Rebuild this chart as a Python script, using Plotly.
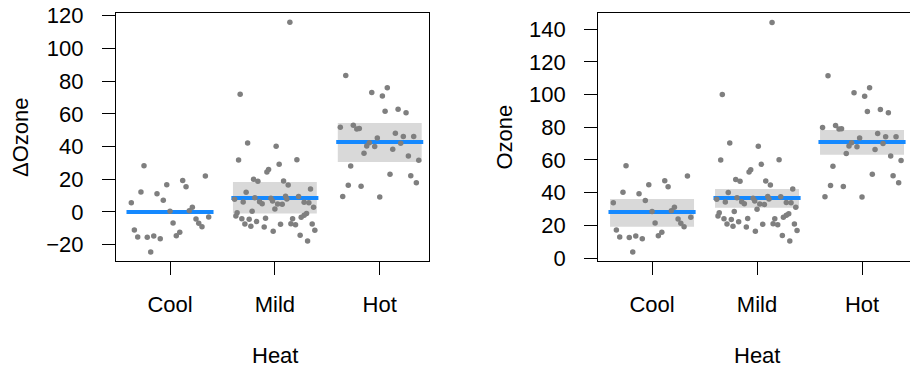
import plotly.graph_objects as go

# ---------------- data ----------------
categories = ["Cool", "Mild", "Hot"]

cool_ozone = [56.4, 50.1, 47.3, 44.8, 43.6, 40.3, 39.3, 35.2, 33.8, 28.5, 31.0, 28.9, 25.0,
              23.8, 21.2, 19.1, 21.4, 15.7, 13.6, 17.1, 12.8, 12.6, 13.4, 11.8, 3.6]
cool_jitter = [-0.248, 0.337, 0.121, -0.031, 0.153, -0.277, -0.124, -0.064, -0.369, 0.000,
               0.213, 0.184, 0.369, 0.248, 0.274, 0.305, 0.029, 0.093, 0.060, -0.340,
               -0.308, -0.217, -0.155, -0.093, -0.184]

mild_ozone = [70.3, 68.3, 59.9, 60.1, 57.3, 54.0, 52.6, 48.1, 46.9, 47.1, 44.6, 42.2, 40.1,
              37.5, 37.7, 35.9, 36.8, 36.5, 36.1, 34.2, 34.4, 33.2, 34.8, 33.0, 32.8, 34.0,
              33.8, 31.0, 29.9, 28.5, 27.7, 25.7, 27.1, 26.1, 24.9, 24.0, 23.6, 24.2, 24.0,
              22.2, 20.8, 19.4, 20.6, 20.9, 20.3, 18.9, 20.8, 16.3, 16.9, 13.8, 10.4,
              144.1, 100.1]
mild_jitter = [-0.260, 0.012, -0.346, 0.210, 0.041, -0.060, -0.076, -0.203, -0.162, 0.083,
               0.127, 0.340, -0.274, 0.226, 0.102, -0.384, -0.191, -0.038, 0.114, -0.302,
               -0.146, -0.121, -0.022, 0.026, 0.070, 0.279, 0.324, 0.369, 0.000, -0.217,
               -0.360, -0.372, 0.302, 0.279, 0.251, -0.315, -0.245, -0.089, 0.169, -0.175,
               -0.286, -0.229, 0.054, 0.153, 0.197, -0.102, 0.356, -0.016, 0.381, 0.241,
               0.312, 0.143, -0.331]

hot_ozone = [111.5, 104.1, 101.1, 99.0, 89.7, 90.9, 88.8, 79.9, 81.1, 78.9, 79.1, 76.2, 74.2,
             74.2, 73.4, 70.5, 70.1, 68.5, 68.1, 66.4, 64.0, 62.4, 59.7, 56.2, 51.2, 50.3,
             46.0, 44.4, 43.8, 37.5, 37.3]
hot_jitter = [-0.324, 0.072, -0.076, 0.025, 0.051, 0.175, 0.251, -0.376, -0.252, -0.219,
              -0.195, 0.149, 0.225, 0.324, -0.023, -0.099, 0.200, -0.124, -0.048, 0.124,
              -0.150, 0.273, 0.372, -0.277, 0.098, 0.296, 0.349, -0.300, -0.178, -0.353,
              0.000]

# group estimates (Ozone scale) and confidence bands
ozone_mean = [28.1, 36.7, 70.9]
ozone_lo = [19.1, 30.8, 63.2]
ozone_hi = [36.1, 42.2, 78.3]

# differences from Cool (ΔOzone scale)
delta_mean = [0.0, 8.6, 42.8]
delta_lo = [0.0, -1.0, 30.6]
delta_hi = [0.0, 18.3, 54.4]

yticks_left = [-20, 0, 20, 40, 60, 80, 100, 120]
yticks_right = [0, 20, 40, 60, 80, 100, 120, 140]

# ---------------- styling ----------------
W, H = 910, 369
FONT = "Liberation Sans, Arial, Helvetica, sans-serif"
PT_COL = "#7f7f7f"
LINE_COL = "#1589ff"
BAND_COL = "#d9d9d9"
BAND_HW = 0.40
LINE_HW = 0.415

groups_y = [cool_ozone, mild_ozone, hot_ozone]
groups_j = [cool_jitter, mild_jitter, hot_jitter]

fig = go.Figure()


def add_panel(xa, ya, means, lo, hi, shift):
    # bands
    for i in range(3):
        if hi[i] == lo[i]:
            continue
        c = i + 1
        fig.add_trace(go.Scatter(
            x=[c - BAND_HW, c + BAND_HW, c + BAND_HW, c - BAND_HW, c - BAND_HW],
            y=[lo[i], lo[i], hi[i], hi[i], lo[i]],
            mode="lines", fill="toself", fillcolor=BAND_COL,
            line=dict(width=0, color=BAND_COL), hoverinfo="skip",
            xaxis=xa, yaxis=ya, showlegend=False))
    # mean lines
    lx, ly = [], []
    for i in range(3):
        c = i + 1
        lx += [c - LINE_HW, c + LINE_HW, None]
        ly += [means[i], means[i], None]
    fig.add_trace(go.Scatter(x=lx, y=ly, mode="lines",
                             line=dict(color=LINE_COL, width=4),
                             xaxis=xa, yaxis=ya, showlegend=False, hoverinfo="skip"))
    # points
    px, py = [], []
    for i in range(3):
        for v, j in zip(groups_y[i], groups_j[i]):
            px.append(i + 1 + j)
            py.append(v - shift)
    fig.add_trace(go.Scatter(x=px, y=py, mode="markers",
                             marker=dict(color=PT_COL, size=5.5, line=dict(width=0)),
                             xaxis=xa, yaxis=ya, showlegend=False))


add_panel("x", "y", delta_mean, delta_lo, delta_hi, ozone_mean[0])
add_panel("x2", "y2", ozone_mean, ozone_lo, ozone_hi, 0.0)

ydom = [(H - 260.7) / H, (H - 13.3) / H]
axis_common = dict(showgrid=False, zeroline=False, showline=True, linecolor="black",
                   linewidth=1.2, mirror=True, ticks="outside", ticklen=13,
                   tickcolor="black", tickwidth=1.2, automargin=False,
                   tickfont=dict(family=FONT, size=22, color="black"))

fig.update_layout(
    template="none",
    width=W, height=H, margin=dict(l=0, r=0, t=0, b=0, pad=0),
    paper_bgcolor="white", plot_bgcolor="white",
    xaxis=dict(domain=[116 / W, 428.5 / W], range=[0.485, 3.465],
               tickvals=[1, 2, 3], ticktext=categories, ticklabelstandoff=11, **axis_common),
    yaxis=dict(domain=ydom, range=[-29.8, 121.5], tickvals=yticks_left,
               ticktext=[str(t) if t >= 0 else "\u2212" + str(-t) for t in yticks_left],
               ticklabelstandoff=14, **axis_common),
    xaxis2=dict(domain=[598.3 / W, 1.0], range=[0.488, 3.457], anchor="y2",
                tickvals=[1, 2, 3], ticktext=categories, ticklabelstandoff=11, **axis_common),
    yaxis2=dict(domain=ydom, range=[-1.65, 149.7], anchor="x2", tickvals=yticks_right,
                ticklabelstandoff=14, **axis_common),
    annotations=[
        dict(text="\u0394Ozone", xref="paper", yref="paper", x=20 / W, y=(H - 137) / H,
             textangle=-90, showarrow=False, xanchor="center", yanchor="middle",
             font=dict(family=FONT, size=22, color="black")),
        dict(text="Ozone", xref="paper", yref="paper", x=503.5 / W, y=(H - 137) / H,
             textangle=-90, showarrow=False, xanchor="center", yanchor="middle",
             font=dict(family=FONT, size=22, color="black")),
        dict(text="Heat", xref="x", yref="paper", x=2, y=(H - 355.5) / H,
             showarrow=False, xanchor="center", yanchor="middle",
             font=dict(family=FONT, size=22, color="black")),
        dict(text="Heat", xref="x2", yref="paper", x=2, y=(H - 355.5) / H,
             showarrow=False, xanchor="center", yanchor="middle",
             font=dict(family=FONT, size=22, color="black")),
    ],
)

fig.write_html("out.html")
